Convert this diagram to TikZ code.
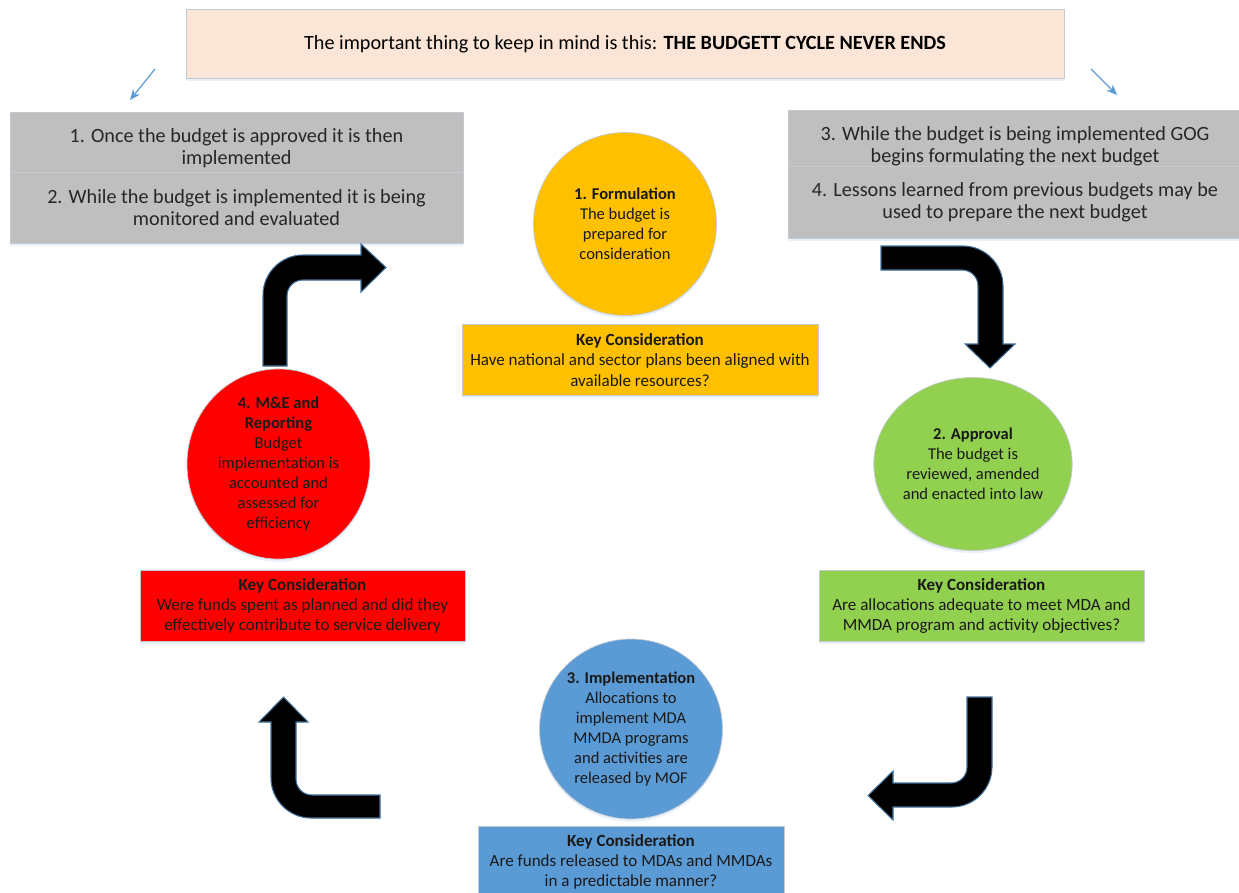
\documentclass[tikz,border=0pt]{standalone}
\usepackage{fontspec}
\setmainfont{Carlito}
\usepackage{tikz}
\usetikzlibrary{shapes.geometric, arrows.meta, positioning, shadows}
\definecolor{notefill}{RGB}{251,229,214}
\definecolor{notegray}{RGB}{191,191,191}
\definecolor{stageyellow}{RGB}{255,192,0}
\definecolor{stagegreen}{RGB}{146,208,80}
\definecolor{stagered}{RGB}{255,0,0}
\definecolor{stageblue}{RGB}{91,155,213}
\definecolor{edgeblue}{RGB}{65,113,156}
\definecolor{rimgray}{RGB}{196,202,210}

\begin{document}
\begin{tikzpicture}[
  x=0.02cm, y=-0.02cm,
  soft/.style={drop shadow={shadow xshift=0pt, shadow yshift=-1.5pt, fill=stageblue!40, opacity=0.35}},
  note/.style={rectangle, soft, draw=rimgray, fill=notegray, minimum width=9.06cm, align=center,
               text=black!85, font=\fontsize{11.5}{12.5}\selectfont},
  stage/.style={ellipse, soft, draw=rimgray, inner sep=0pt, align=center, text=black!90,
               minimum width=3.66cm, font=\fontsize{9.4}{11.4}\selectfont},
  keybox/.style={rectangle, soft, draw=rimgray, minimum height=1.42cm, align=center, text=black!90,
               font=\fontsize{9.7}{11.5}\selectfont},
  blockarrow/.style={fill=black, draw=edgeblue, line width=0.6pt},
  hint/.style={-{Stealth[length=6pt, width=5pt]}, draw=stageblue, line width=0.7pt}
]
\useasboundingbox (0,0) rectangle (1239,892);

\node[rectangle, soft, draw=rimgray, fill=notefill, minimum width=17.56cm, minimum height=1.38cm,
      font=\fontsize{11.5}{12.5}\selectfont] (motto) at (625,44)
  {The important thing to keep in mind is this: \textbf{THE BUDGETT CYCLE NEVER ENDS}};

\coordinate (hintl0) at (155,69);
\coordinate (hintl1) at (130,100);
\coordinate (hintr0) at (1091,69);
\coordinate (hintr1) at (1117,95);
\draw[hint] (hintl0) -- (hintl1);
\draw[hint] (hintr0) -- (hintr1);

\node[note, minimum height=1.44cm] (left1) at (236.5,148) {1. Once the budget is approved it is then\\implemented};
\node[note, minimum height=1.42cm] (left2) at (236.5,207.5) {2. While the budget is implemented it is being\\monitored and evaluated};
\node[note, minimum height=1.44cm] (right1) at (1015,146) {3. While the budget is being implemented GOG\\begins formulating the next budget};
\node[note, minimum height=1.44cm] (right2) at (1015,202) {4. Lessons learned from previous budgets may be\\used to prepare the next budget};

\node[stage, fill=stageyellow, minimum height=3.66cm] (formul) at (625,224)
  {\textbf{1. Formulation}\\The budget is\\prepared for\\consideration};
\node[keybox, fill=stageyellow, minimum width=7.12cm] (formulkey) at (640,360)
  {\textbf{Key Consideration}\\Have national and sector plans been aligned with\\available resources?};

\node[stage, fill=stagegreen, minimum height=3.46cm] (approv) at (973,464)
  {\textbf{2. Approval}\\The budget is\\reviewed, amended\\and enacted into law};
\node[keybox, fill=stagegreen, minimum width=6.5cm] (approvkey) at (981.5,606)
  {\textbf{Key Consideration}\\Are allocations adequate to meet MDA and\\MMDA program and activity objectives?};

\node[stage, fill=stageblue, minimum height=3.6cm] (implem) at (631,729)
  {\textbf{3. Implementation}\\Allocations to\\implement MDA\\MMDA programs\\and activities are\\released by MOF};
\node[keybox, fill=stageblue, minimum width=6.12cm, minimum height=1.44cm] (implemkey) at (631,862)
  {\textbf{Key Consideration}\\Are funds released to MDAs and MMDAs\\in a predictable manner?};

\node[stage, fill=stagered, minimum height=3.46cm] (report) at (278.5,464)
  {\textbf{4. M\&E and}\\\textbf{Reporting}\\Budget\\implementation is\\accounted and\\assessed for\\efficiency};
\node[keybox, fill=stagered, minimum width=6.5cm] (reportkey) at (302.5,606)
  {\textbf{Key Consideration}\\Were funds spent as planned and did they\\effectively contribute to service delivery};

\fill[blockarrow] (263,366) -- (263,295) .. controls (263,273) and (281,255) .. (303,255) -- (361,255)
  -- (361,244) -- (386,267.5) -- (361,292) -- (361,280) -- (303,280)
  .. controls (294,280) and (287,287) .. (287,296) -- (287,366) -- cycle;
\fill[blockarrow] (881,246) -- (963,246) .. controls (985,246) and (1003,264) .. (1003,286) -- (1003,344)
  -- (1015,344) -- (990,368) -- (965,344) -- (978,344) -- (978,286)
  .. controls (978,277) and (971,270) .. (962,270) -- (881,270) -- cycle;
\fill[blockarrow] (967,697) -- (992,697) -- (992,767) .. controls (992,789) and (974,807) .. (952,807) -- (893,807)
  -- (893,820) -- (868,795.5) -- (893,771) -- (893,783) -- (951,783)
  .. controls (960,783) and (967,776) .. (967,767) -- cycle;
\fill[blockarrow] (380,818) -- (311,818) .. controls (289,818) and (271,800) .. (271,778) -- (271,722)
  -- (259,722) -- (283.5,697) -- (308,722) -- (296,722) -- (296,779)
  .. controls (296,788) and (303,795) .. (312,795) -- (380,795) -- cycle;

\end{tikzpicture}
\end{document}
